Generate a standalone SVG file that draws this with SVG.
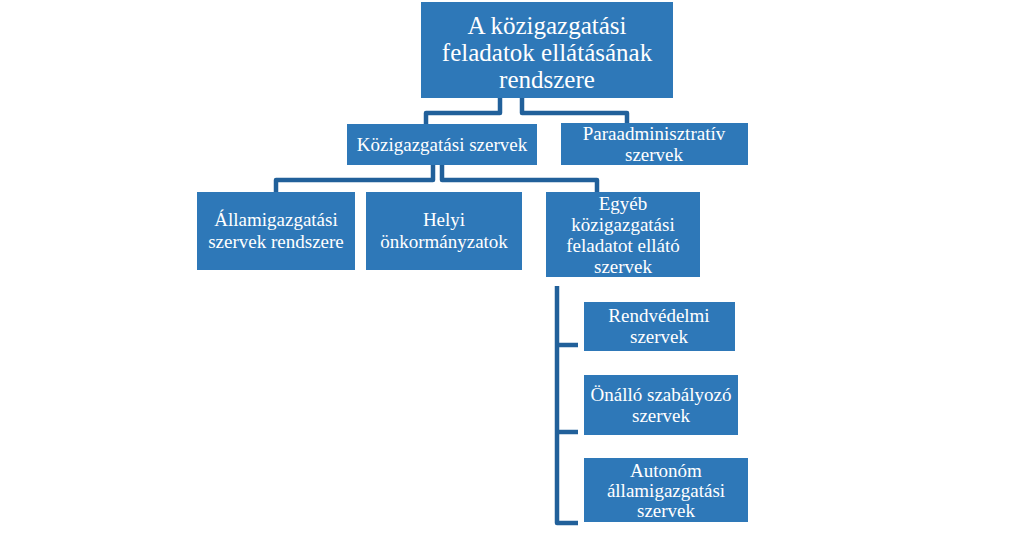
<svg xmlns="http://www.w3.org/2000/svg" width="1024" height="534" viewBox="0 0 1024 534">
<style>
.n{fill:#2e78b8}
.t{fill:#fff;font-family:"Liberation Serif",serif;font-size:19px;text-anchor:middle}
.r{font-size:25px}
.c{fill:none;stroke:#21609a;stroke-width:4.5;stroke-linejoin:round}
</style>
<rect width="1024" height="534" fill="#fff"/>
<g id="connectors" class="c">
<path d="M500 98V113H426V124"/>
<path d="M522 98V113H627V124"/>
<path d="M433 165V180H276V192"/>
<path d="M442 165V180H597V192"/>
<path d="M557 286V523H578M557 345H578M557 432H578"/>
</g>
<g id="root"><rect class="n" x="421" y="2" width="252" height="96"/><text class="t r" x="547" y="34">A közigazgatási</text><text class="t r" x="547" y="61">feladatok ellátásának</text><text class="t r" x="547" y="88">rendszere</text></g>
<g id="kozig"><rect class="n" x="347" y="124" width="190" height="41"/><text class="t" x="442" y="151">Közigazgatási szervek</text></g>
<g id="para"><rect class="n" x="561" y="123" width="187" height="42"/><text class="t" x="654" y="140">Paraadminisztratív</text><text class="t" x="654" y="161">szervek</text></g>
<g id="allam"><rect class="n" x="197" y="192" width="158" height="78"/><text class="t" x="276" y="226">Államigazgatási</text><text class="t" x="276" y="248">szervek rendszere</text></g>
<g id="helyi"><rect class="n" x="366" y="192" width="156" height="78"/><text class="t" x="444" y="226">Helyi</text><text class="t" x="444" y="248">önkormányzatok</text></g>
<g id="egyeb"><rect class="n" x="546" y="192" width="154" height="85"/><text class="t" x="623" y="210">Egyéb</text><text class="t" x="623" y="231">közigazgatási</text><text class="t" x="623" y="252">feladatot ellátó</text><text class="t" x="623" y="273">szervek</text></g>
<g id="rend"><rect class="n" x="584" y="302" width="151" height="49"/><text class="t" x="659" y="322">Rendvédelmi</text><text class="t" x="659" y="343">szervek</text></g>
<g id="onallo"><rect class="n" x="584" y="375" width="154" height="60"/><text class="t" x="661" y="401">Önálló szabályozó</text><text class="t" x="661" y="422">szervek</text></g>
<g id="auto"><rect class="n" x="584" y="458" width="164" height="64"/><text class="t" x="666" y="477">Autonóm</text><text class="t" x="666" y="497">államigazgatási</text><text class="t" x="666" y="517">szervek</text></g>
</svg>
